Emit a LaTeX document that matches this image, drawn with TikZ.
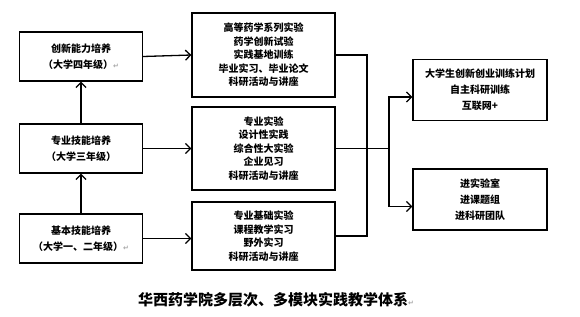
\documentclass[tikz,border=0pt]{standalone}
\usepackage{fontspec}
\newfontfamily\cjk{Noto Sans CJK SC}
\newfontfamily\symfont{DejaVu Sans}
\usetikzlibrary{arrows.meta}
\newcommand{\pmark}{{\symfont\color{gray!70}\scriptsize ↵}}
\tikzset{
  stage/.style={draw,line width=1.3pt,minimum width=123pt,minimum height=49pt,
    align=center,font=\cjk\bfseries\fontsize{10}{16}\selectfont},
  module/.style={draw,line width=1.3pt,minimum width=143pt,align=center,
    font=\cjk\bfseries\fontsize{10}{13.5}\selectfont},
  outlet/.style={draw,line width=1.3pt,minimum width=134pt,minimum height=61pt,
    align=center,font=\cjk\bfseries\fontsize{10}{16}\selectfont},
  link/.style={line width=1.3pt},
  flow/.style={line width=1.3pt,-{Straight Barb[length=5pt,width=10pt,line width=1.3pt]}}
}
\begin{document}
\begin{tikzpicture}[x=1pt,y=-1pt]
  \useasboundingbox (0,0) rectangle (580,316);
  % left column: training stages
  \node[stage] (L1) at (81,56.5)  {创新能力培养\\（大学四年级）\pmark};
  \node[stage] (L2) at (81,148.5) {专业技能培养\\（大学三年级）};
  \node[stage] (L3) at (81,238.5) {基本技能培养\\（大学一、二年级）\pmark};
  % middle column: teaching modules
  \node[module,minimum height=84pt] (M1) at (263.5,55)
    {高等药学系列实验\\药学创新试验\\实践基地训练\\毕业实习、毕业论文\\科研活动与讲座};
  \node[module,minimum height=83pt] (M2) at (263.5,148.5)
    {专业实验\\设计性实践\\综合性大实验\\企业见习\\科研活动与讲座};
  \node[module,minimum height=68pt] (M3) at (263.5,236)
    {专业基础实验\\课程教学实习\\野外实习\\科研活动与讲座};
  % right column
  \node[outlet] (R1) at (480,90)  {大学生创新创业训练计划\\自主科研训练\\互联网+};
  \node[outlet] (R2) at (480,199.5) {进实验室\\进课题组\\进科研团队};
  \coordinate (bus) at (367,148.5);
  \coordinate (split) at (389,148.5);
  % connectors
  \draw[flow] (L3.north) -- (L2.south);
  \draw[flow] (L2.north) -- (L1.south);
  \draw[flow] (L1.east) -- (M1.west);
  \draw[flow] (L2.east) -- (M2.west);
  \draw[flow] (L3.east) -- (L3.east -| M3.west);
  \draw[link] (M1.east) -| (bus) |- (M3.east);
  \draw[link] (M2.east) -- (split);
  \draw[flow] (split) |- ([yshift=-7pt]R1.west);
  \draw[flow] (split) |- ([yshift=-7pt]R2.west);
  \node[font=\cjk\bfseries\fontsize{15}{18}\selectfont] (title) at (276,300)
    {华西药学院多层次、多模块实践教学体系\pmark};
\end{tikzpicture}
\end{document}
